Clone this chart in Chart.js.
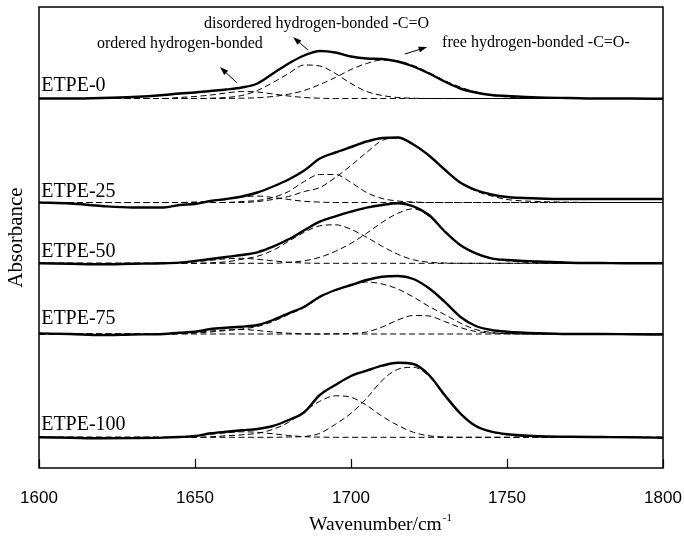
<!DOCTYPE html>
<html>
<head>
<meta charset="utf-8">
<script src="https://cdn.jsdelivr.net/npm/chart.js@4.4.1/dist/chart.umd.min.js"></script>
<style>
  html, body { margin: 0; padding: 0; background: #fff; }
  #wrap { width: 684px; height: 540px; position: relative; }
</style>
</head>
<body>
<div id="wrap"><canvas id="ftir"></canvas></div>
<script>
// wavenumber grid (cm-1) shared by all spectra
const wavenumbers = [1600, 1610, 1620, 1630, 1640, 1645, 1650, 1655, 1660, 1665, 1670, 1675, 1680, 1685, 1690, 1695,
                     1700, 1705, 1710, 1715, 1720, 1725, 1730, 1735, 1740, 1745, 1750, 1760, 1770, 1780, 1790, 1800];

const samples = ['ETPE-0', 'ETPE-25', 'ETPE-50', 'ETPE-75', 'ETPE-100'];
// vertical offset of each spectrum's baseline (a.u.)
const offsets = [369.5, 265.5, 204.7, 134, 30.7];

// measured spectra (a.u., relative to own baseline)
const measured0   = [0, 0, 0.5, 1.5, 3.5, 5, 6, 7.5, 9, 11, 15, 25, 35, 43, 47.5, 46, 42, 40, 39.5, 37, 32, 25, 17, 10, 6, 3.5, 2.5, 1, 0.5, 0, 0, -0.3];
const measured25  = [0, -1, -3.5, -5, -5, -2.5, -1.5, 1.5, 3.5, 6, 10, 16, 23, 32, 44, 50, 55.5, 61, 64.5, 65, 58, 47, 33, 20, 12.5, 8, 5.5, 4, 3.5, 3.5, 3.5, 3.5];
const measured50  = [0, -0.5, -1, -0.5, 0, 0.7, 2.3, 4.3, 6.3, 8.3, 11, 16.6, 24, 33, 41.6, 47, 51.6, 55.6, 58.3, 60, 57, 48.3, 32, 18.3, 10, 5, 3.3, 1.8, 0.6, 0.3, 0, 0];
const measured75  = [0.5, 0, -1, -0.5, 0, 1.3, 2.3, 5, 6.3, 7.3, 9, 14, 20.7, 27.3, 37.3, 44, 49, 54, 57.3, 58, 55, 45.7, 32.3, 17.3, 8, 4, 2.3, 0.7, 0, 0, -0.3, -0.5];
const measured100 = [0, -0.5, -1, -0.8, -0.3, 0.3, 1.3, 4, 5.6, 7, 8.3, 11.3, 17.3, 25, 42.3, 52.3, 61.3, 66.6, 71.6, 74.6, 73.3, 62.3, 42.3, 24, 11.3, 5.6, 3, 1, 0.6, 0.3, 0, -0.5];

// fitted components: ordered H-bonded, disordered H-bonded -C=O, free -C=O
const ordered0    = [0, 0, 0, 0, 0, 1, 2, 3.5, 5.5, 7, 6.5, 4.5, 2.5, 1, 0.3, 0, 0, 0, 0, 0, 0, 0, 0, 0, 0, 0, 0, 0, 0, 0, 0, 0];
const disordered0 = [0, 0, 0, 0, 0, 0, 0, 0.3, 1, 3, 8, 16, 25, 33.5, 32.5, 25, 15, 7, 3, 1, 0.3, 0, 0, 0, 0, 0, 0, 0, 0, 0, 0, 0];
const free0       = [0, 0, 0, 0, 0, 0, 0, 0, 0.1, 0.3, 0.8, 2, 4.3, 8, 14, 21, 29, 35, 38.5, 37.5, 33, 26, 18, 11.5, 6.5, 3.2, 1.5, 0.2, 0, 0, 0, 0];

const ordered25    = [0, 0, 0, 0, 0, 0, 0.5, 1.5, 3.5, 5.5, 6.5, 5, 3, 1.2, 0.4, 0, 0, 0, 0, 0, 0, 0, 0, 0, 0, 0, 0, 0, 0, 0, 0, 0];
const disordered25 = [0, 0, 0, 0, 0, 0, 0, 0, 0, 1, 2, 5, 11, 21, 28, 28, 20, 10, 4, 1.5, 0.5, 0, 0, 0, 0, 0, 0, 0, 0, 0, 0, 0];
const free25       = [0, 0, 0, 0, 0, 0, 0, 0, 0, 0, 1, 3, 6, 11, 15, 25, 37, 50, 62, 64.5, 57.5, 46.5, 32.5, 19.5, 11.5, 6.5, 3, 1, 0.3, 0, 0, 0];

const ordered50    = [0, 0, 0, 0, 0, 0.5, 1.5, 3, 4.5, 5, 4, 2.5, 1, 0.3, 0, 0, 0, 0, 0, 0, 0, 0, 0, 0, 0, 0, 0, 0, 0, 0, 0, 0];
const disordered50 = [0, 0, 0, 0, 0, 0, 0, 0.5, 1.5, 4, 7, 13, 22, 31, 37.5, 38.5, 34, 26, 17, 9, 3.5, 1, 0.3, 0, 0, 0, 0, 0, 0, 0, 0, 0];
const free50       = [0, 0, 0, 0, 0, 0, 0, 0, 0, 0, 0, 0, 1, 2.5, 6, 12, 20, 30, 41, 50, 54.5, 47, 32, 18, 9.5, 4.5, 2.5, 0.5, 0, 0, 0, 0];

const ordered75    = [0, 0, 0, 0, 0, 0.5, 1.5, 3, 4, 4.5, 3.5, 2, 0.8, 0.2, 0, 0, 0, 0, 0, 0, 0, 0, 0, 0, 0, 0, 0, 0, 0, 0, 0, 0];
const disordered75 = [0, 0, 0, 0, 0, 0.5, 1, 2, 3.5, 5, 7.5, 12.5, 19.5, 26.5, 36.5, 43.5, 48.5, 52, 50, 45, 37, 27.5, 19.5, 11, 4.5, 1.5, 0.5, 0, 0, 0, 0, 0];
const free75       = [0, 0, 0, 0, 0, 0, 0, 0, 0, 0, 0, 0, 0, 0, 0, 0.2, 0.5, 2, 7, 14, 18.5, 18, 12.5, 6.5, 2.5, 1, 0.3, 0, 0, 0, 0, 0];

const ordered100    = [0, 0, 0, 0, 0, 0.5, 1.5, 3, 4.5, 5.5, 5, 3.5, 1.8, 0.6, 0.2, 0, 0, 0, 0, 0, 0, 0, 0, 0, 0, 0, 0, 0, 0, 0, 0, 0];
const disordered100 = [0, 0, 0, 0, 0, 0, 0, 0.5, 1.5, 2.5, 4, 8, 15, 26, 36, 41.5, 40, 32, 21, 12, 5, 1.5, 0.3, 0, 0, 0, 0, 0, 0, 0, 0, 0];
const free100       = [0, 0, 0, 0, 0, 0, 0, 0, 0, 0, 0, 0, 0.3, 0.8, 4, 13, 24, 39, 57, 68, 70, 61, 42, 24, 11, 5.5, 2.5, 0.5, 0, 0, 0, 0];

const xTicks = [1600, 1650, 1700, 1750, 1800];

const measured = [measured0, measured25, measured50, measured75, measured100];
const components = [
  [ordered0, disordered0, free0],
  [ordered25, disordered25, free25],
  [ordered50, disordered50, free50],
  [ordered75, disordered75, free75],
  [ordered100, disordered100, free100]
];

function shifted(values, base) {
  return values.map((v, i) => ({ x: wavenumbers[i], y: base + v }));
}

const datasets = [];
samples.forEach((name, i) => {
  components[i].forEach((comp, k) => {
    datasets.push({
      label: name + ' fit ' + k,
      data: shifted(comp, offsets[i]),
      borderColor: '#000',
      borderWidth: 1,
      borderDash: [6, 3.5],
      pointRadius: 0,
      cubicInterpolationMode: 'monotone'
    });
  });
  datasets.push({
    label: name,
    data: shifted(measured[i], offsets[i]),
    borderColor: '#000',
    borderWidth: 2.4,
    pointRadius: 0,
    cubicInterpolationMode: 'monotone'
  });
});

// band assignments with arrows, in data coordinates
const notes = [
  { text: 'ordered hydrogen-bonded', x: 1618.6, y: 424, from: [1663.5, 385], to: [1658, 401] },
  { text: 'disordered hydrogen-bonded -C=O', x: 1652.9, y: 444, from: [1686.2, 418], to: [1681.4, 431] },
  { text: 'free hydrogen-bonded -C=O-', x: 1729.2, y: 425, from: [1717.3, 414], to: [1724.4, 421] }
];
const labelLift = [8, 6, 6.5, 10, 7];

function arrow(ctx, x1, y1, x2, y2) {
  const ang = Math.atan2(y2 - y1, x2 - x1);
  const head = 9;
  ctx.beginPath();
  ctx.moveTo(x1, y1);
  ctx.lineTo(x2 - Math.cos(ang) * head * 0.6, y2 - Math.sin(ang) * head * 0.6);
  ctx.stroke();
  ctx.beginPath();
  ctx.moveTo(x2, y2);
  ctx.lineTo(x2 - head * Math.cos(ang - 0.33), y2 - head * Math.sin(ang - 0.33));
  ctx.lineTo(x2 - head * Math.cos(ang + 0.33), y2 - head * Math.sin(ang + 0.33));
  ctx.closePath();
  ctx.fill();
}

const decor = {
  id: 'decor',
  afterDraw(chart) {
    const { ctx, chartArea: a, scales: { x, y } } = chart;
    ctx.save();
    ctx.strokeStyle = '#000';
    ctx.fillStyle = '#000';

    // frame and inward ticks
    ctx.lineWidth = 1.5;
    ctx.strokeRect(a.left, a.top, a.right - a.left, a.bottom - a.top);
    ctx.lineWidth = 1.2;
    x.ticks.forEach(t => {
      const px = Math.round(x.getPixelForValue(t.value)) + 0.5;
      ctx.beginPath();
      ctx.moveTo(px, a.bottom);
      ctx.lineTo(px, a.bottom - 9);
      ctx.stroke();
    });

    // sample names
    ctx.font = '20px "Liberation Serif"';
    ctx.textBaseline = 'alphabetic';
    ctx.textAlign = 'left';
    samples.forEach((name, i) => {
      ctx.fillText(name, x.getPixelForValue(1600.7), y.getPixelForValue(offsets[i]) - labelLift[i]);
    });

    // band notes
    ctx.font = '16px "Liberation Serif"';
    ctx.textBaseline = 'middle';
    ctx.lineWidth = 1;
    notes.forEach(n => {
      ctx.fillText(n.text, x.getPixelForValue(n.x), y.getPixelForValue(n.y));
      arrow(ctx, x.getPixelForValue(n.from[0]), y.getPixelForValue(n.from[1]),
                 x.getPixelForValue(n.to[0]), y.getPixelForValue(n.to[1]));
    });

    // axis titles (x title sits a little right of centre)
    const cx = (a.left + a.right) / 2 + 29;
    const main = 'Wavenumber/cm';
    ctx.textBaseline = 'alphabetic';
    ctx.font = '11px "Liberation Serif"';
    const supW = ctx.measureText('-1').width;
    ctx.font = '19.5px "Liberation Serif"';
    const mainW = ctx.measureText(main).width;
    const x0 = cx - (mainW + supW) / 2;
    ctx.fillText(main, x0, 530);
    ctx.font = '11px "Liberation Serif"';
    ctx.fillText('-1', x0 + mainW + 1, 521);

    ctx.translate(16, (a.top + a.bottom) / 2);
    ctx.rotate(-Math.PI / 2);
    ctx.font = '21px "Liberation Serif"';
    ctx.textAlign = 'center';
    ctx.textBaseline = 'middle';
    ctx.fillText('Absorbance', 0, 0);
    ctx.restore();
  }
};

new Chart(document.getElementById('ftir'), {
  type: 'line',
  data: { datasets },
  options: {
    responsive: true,
    maintainAspectRatio: false,
    animation: false,
    layout: { padding: { left: 39, right: 21, top: 7, bottom: 0 } },
    plugins: { legend: { display: false }, tooltip: { enabled: false } },
    scales: {
      x: {
        type: 'linear',
        min: 1600,
        max: 1800,
        afterBuildTicks: scale => { scale.ticks = xTicks.map(v => ({ value: v })); },
        afterFit: scale => {
          scale.height = 72;
          scale.paddingLeft = 0;
          scale.paddingRight = 0;
        },
        grid: { display: false, drawTicks: false },
        border: { display: false },
        ticks: {
          padding: 20,
          color: '#000',
          font: { family: 'Liberation Sans', size: 17 },
          callback: v => String(v)
        }
      },
      y: {
        display: false,
        min: 0,
        max: 461
      }
    }
  },
  plugins: [decor]
});
</script>
</body>
</html>
